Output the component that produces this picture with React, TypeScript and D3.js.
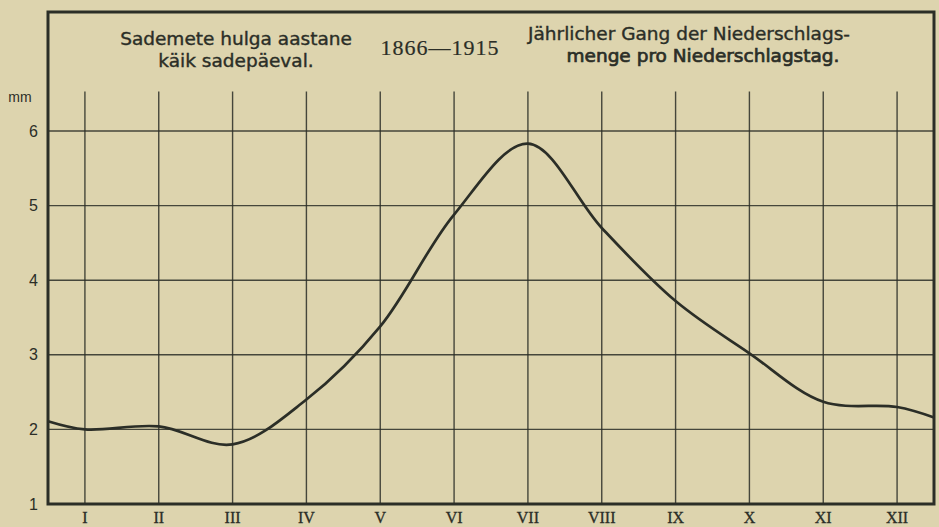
import React, { useEffect, useRef } from 'react';
import * as d3 from 'd3';

// Roman month labels, 1866–1915 mean precipitation per rain day (mm)
const months = ['I', 'II', 'III', 'IV', 'V', 'VI', 'VII', 'VIII', 'IX', 'X', 'XI', 'XII'];
const rainPerDay = [2.0, 2.04, 1.8, 2.4, 3.38, 4.88, 5.83, 4.7, 3.72, 3.02, 2.37, 2.3];
// curve runs on to the frame edges (half a month before I and after XII)
const edgeStart = 2.11;
const edgeEnd = 2.16;
const yTicks = [1, 2, 3, 4, 5, 6];

const titleLeft = ['Sademete hulga aastane', 'käik sadepäeval.'];
const titleMid = '1866—1915';
const titleRight = ['Jährlicher Gang der Niederschlags-', 'menge pro Niederschlagstag.'];

const W = 939;
const H = 527;

const App = () => {
  const ref = useRef<SVGSVGElement>(null);

  useEffect(() => {
    const svg = d3.select(ref.current);
    svg.selectAll('*').remove();

    const left = 48, right = 934, top = 12, bottom = 504;
    const ink = '#2b2e27';

    svg.append('rect').attr('width', W).attr('height', H).attr('fill', '#ddd4ae');

    const x = d3.scaleLinear().domain([-0.5, months.length - 0.5]).range([left, right]);
    const y = d3.scaleLinear().domain([1, 6]).range([bottom, 131]);

    // grid
    svg.append('g')
      .selectAll('line')
      .data(yTicks.slice(1))
      .join('line')
      .attr('x1', left).attr('x2', right)
      .attr('y1', (d) => y(d)).attr('y2', (d) => y(d))
      .attr('stroke', ink).attr('stroke-width', 1.4).attr('opacity', 0.85);

    svg.append('g')
      .selectAll('line')
      .data(months)
      .join('line')
      .attr('x1', (d, i) => x(i)).attr('x2', (d, i) => x(i))
      .attr('y1', y(6.53)).attr('y2', bottom)
      .attr('stroke', ink).attr('stroke-width', 1.4).attr('opacity', 0.85);

    // frame
    svg.append('rect')
      .attr('x', left).attr('y', top)
      .attr('width', right - left).attr('height', bottom - top)
      .attr('fill', 'none').attr('stroke', ink).attr('stroke-width', 3);

    // curve
    const pts: [number, number][] = [[-0.5, edgeStart], ...rainPerDay.map((v, i) => [i, v] as [number, number]), [months.length - 0.5, edgeEnd]];
    const line = d3.line<[number, number]>()
      .x((d) => x(d[0]))
      .y((d) => y(d[1]))
      .curve(d3.curveCatmullRom.alpha(0.5));
    svg.append('path')
      .attr('d', line(pts))
      .attr('fill', 'none').attr('stroke', ink).attr('stroke-width', 2.7);

    // y labels
    svg.append('g')
      .selectAll('text')
      .data(yTicks)
      .join('text')
      .attr('x', 38).attr('y', (d) => y(d))
      .attr('dy', '0.35em')
      .attr('text-anchor', 'end')
      .attr('font-family', 'Liberation Sans, sans-serif')
      .attr('font-size', 16)
      .attr('fill', ink)
      .text((d) => d);
    svg.append('text')
      .attr('x', 20).attr('y', 102)
      .attr('text-anchor', 'middle')
      .attr('font-family', 'Liberation Sans, sans-serif')
      .attr('font-size', 14)
      .attr('fill', ink)
      .text('mm');

    // month labels
    svg.append('g')
      .selectAll('text')
      .data(months)
      .join('text')
      .attr('x', (d, i) => x(i)).attr('y', 523)
      .attr('text-anchor', 'middle')
      .attr('font-family', 'Liberation Serif, serif')
      .attr('font-size', 16)
      .attr('fill', ink)
      .attr('stroke', ink).attr('stroke-width', 0.3)
      .text((d) => d);

    // titles
    const tfont = (s: d3.Selection<SVGTextElement, unknown, null, undefined>) =>
      s.attr('font-family', 'DejaVu Sans, sans-serif').attr('font-size', 18.5)
        .attr('fill', ink).attr('text-anchor', 'middle')
        .attr('stroke', ink).attr('stroke-width', 0.4);
    titleLeft.forEach((t, i) => {
      svg.append('text').call(tfont).attr('x', 236).attr('y', 45 + i * 22).text(t);
    });
    svg.append('text').call(tfont).attr('x', 440).attr('y', 55)
      .attr('font-family', 'Liberation Serif, serif').attr('font-size', 22)
      .attr('stroke-width', 0.2).attr('letter-spacing', 1).text(titleMid);
    titleRight.forEach((t, i) => {
      svg.append('text').call(tfont).attr('x', i === 0 ? 689 : 703).attr('y', 40 + i * 22)
        .attr('stroke-width', i === 1 ? 0.7 : 0.4).text(t);
    });
  }, []);

  return <svg ref={ref} width={W} height={H} style={{ position: 'absolute', left: 0, top: 0 }} />;
};

export default App;
